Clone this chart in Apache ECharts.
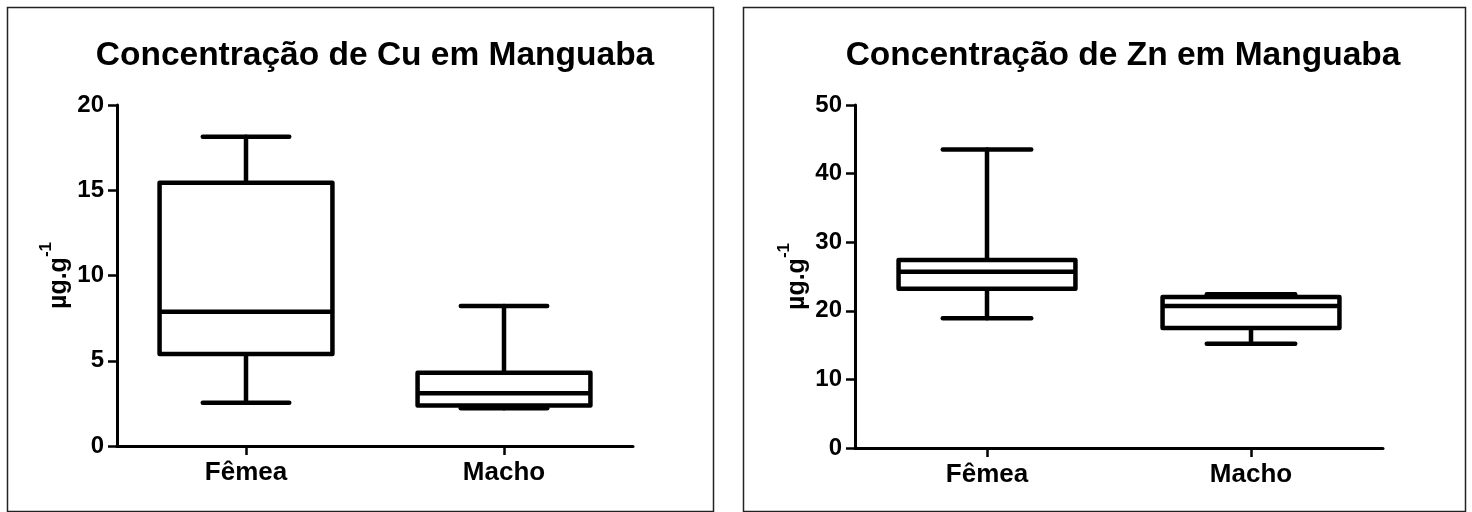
<!DOCTYPE html>
<html>
<head>
<meta charset="utf-8">
<title>Concentração de Cu e Zn em Manguaba</title>
<script src="https://cdn.jsdelivr.net/npm/echarts@6/dist/echarts.min.js"></script>
<style>
  html, body { margin: 0; padding: 0; background: #fff; }
  #chart { width: 1472px; height: 512px; }
</style>
</head>
<body>
<div id="chart"></div>
<script>
// Categories and five-number summaries: [min, Q1, median, Q3, max]
const categories = ['Fêmea', 'Macho'];
const cuFemea = [2.54, 5.40, 7.88, 15.44, 18.14];
const cuMacho = [2.22, 2.38, 3.09, 4.30, 8.21];
const znFemea = [18.9, 23.2, 25.7, 27.4, 43.5];
const znMacho = [15.2, 17.5, 20.7, 22.0, 22.4];

const cuTicks = { min: 0, max: 20, interval: 5 };
const znTicks = { min: 0, max: 50, interval: 10 };

const titles = ['Concentração de Cu em Manguaba', 'Concentração de Zn em Manguaba'];

const FONT = '"Liberation Sans", Arial, Helvetica, sans-serif';
const BOX_RATIO = 0.67;   // box width as a share of the category band
const LINE_W = 4.5;

function toRows(groups) {
  return groups.map((g, i) => [i].concat(g));
}

// Draws a box with whiskers; whisker caps are half as wide as the box
function renderBox(params, api) {
  const c = api.value(0);
  const lo = api.coord([c, api.value(1)]);
  const q1 = api.coord([c, api.value(2)]);
  const med = api.coord([c, api.value(3)]);
  const q3 = api.coord([c, api.value(4)]);
  const hi = api.coord([c, api.value(5)]);
  const band = api.size([1, 0])[0];
  const half = band * BOX_RATIO / 2;
  const cap = half / 2;
  const cx = med[0];
  const lineStyle = { stroke: '#000', lineWidth: LINE_W, lineCap: 'round' };
  const seg = (x1, y1, x2, y2) => ({
    type: 'line',
    shape: { x1, y1, x2, y2 },
    style: lineStyle
  });
  return {
    type: 'group',
    children: [
      seg(cx, q3[1], cx, hi[1]),
      seg(cx, q1[1], cx, lo[1]),
      seg(cx - cap, hi[1], cx + cap, hi[1]),
      seg(cx - cap, lo[1], cx + cap, lo[1]),
      {
        type: 'rect',
        shape: { x: cx - half, y: q3[1], width: half * 2, height: q1[1] - q3[1] },
        style: { fill: '#fff', stroke: '#000', lineWidth: LINE_W, lineJoin: 'round' }
      },
      {
        type: 'line',
        shape: { x1: cx - half, y1: med[1], x2: cx + half, y2: med[1] },
        style: { stroke: '#000', lineWidth: LINE_W, lineCap: 'butt' }
      }
    ]
  };
}

const axisLine = { show: true, lineStyle: { color: '#000', width: 3 } };
const axisTick = { show: true, length: 9, lineStyle: { color: '#000', width: 2.5 } };

function xAxisFor(idx) {
  return {
    type: 'category',
    gridIndex: idx,
    data: categories,
    boundaryGap: true,
    axisLine: axisLine,
    axisTick: { show: true, alignWithLabel: true, length: 9, lineStyle: { color: '#000', width: 2.5 } },
    axisLabel: { margin: 14, color: '#000', fontFamily: FONT, fontWeight: 'bold', fontSize: 26 },
    splitLine: { show: false }
  };
}

function yAxisFor(idx, ticks) {
  return {
    type: 'value',
    gridIndex: idx,
    min: ticks.min,
    max: ticks.max,
    interval: ticks.interval,
    axisLine: axisLine,
    axisTick: axisTick,
    axisLabel: { margin: 13, color: '#000', fontFamily: FONT, fontWeight: 'bold', fontSize: 24 },
    splitLine: { show: false },
    name: '{u|µg.g}{s|-1}',
    nameLocation: 'middle',
    nameGap: 45,
    nameRotate: 90,
    nameTextStyle: {
      rich: {
        u: { fontFamily: FONT, fontWeight: 'bold', fontSize: 25, color: '#000', verticalAlign: 'bottom', lineHeight: 34 },
        s: { fontFamily: FONT, fontWeight: 'bold', fontSize: 17, color: '#000', verticalAlign: 'top', lineHeight: 34 }
      }
    }
  };
}

const chart = echarts.init(document.getElementById('chart'), null, { renderer: 'canvas' });

chart.setOption({
  backgroundColor: '#fff',
  animation: false,
  graphic: [
    { type: 'rect', shape: { x: 7.5, y: 7.5, width: 706, height: 504 }, style: { fill: null, stroke: '#222', lineWidth: 1.5 } },
    { type: 'rect', shape: { x: 743.5, y: 7.5, width: 722, height: 504 }, style: { fill: null, stroke: '#222', lineWidth: 1.5 } }
  ],
  title: [
    { text: titles[0], left: 370, top: 34, textAlign: 'center',
      textStyle: { fontFamily: FONT, fontWeight: 'bold', fontSize: 33.5, color: '#000' } },
    { text: titles[1], left: 1118, top: 34, textAlign: 'center',
      textStyle: { fontFamily: FONT, fontWeight: 'bold', fontSize: 33.5, color: '#000' } }
  ],
  grid: [
    { left: 117, top: 105, width: 516, height: 341, containLabel: false },
    { left: 855, top: 105, width: 528, height: 343, containLabel: false }
  ],
  xAxis: [xAxisFor(0), xAxisFor(1)],
  yAxis: [yAxisFor(0, cuTicks), yAxisFor(1, znTicks)],
  series: [
    {
      type: 'custom', name: 'Cu', xAxisIndex: 0, yAxisIndex: 0,
      renderItem: renderBox,
      encode: { x: 0, y: [1, 2, 3, 4, 5] },
      data: toRows([cuFemea, cuMacho])
    },
    {
      type: 'custom', name: 'Zn', xAxisIndex: 1, yAxisIndex: 1,
      renderItem: renderBox,
      encode: { x: 0, y: [1, 2, 3, 4, 5] },
      data: toRows([znFemea, znMacho])
    }
  ]
});
</script>
</body>
</html>
